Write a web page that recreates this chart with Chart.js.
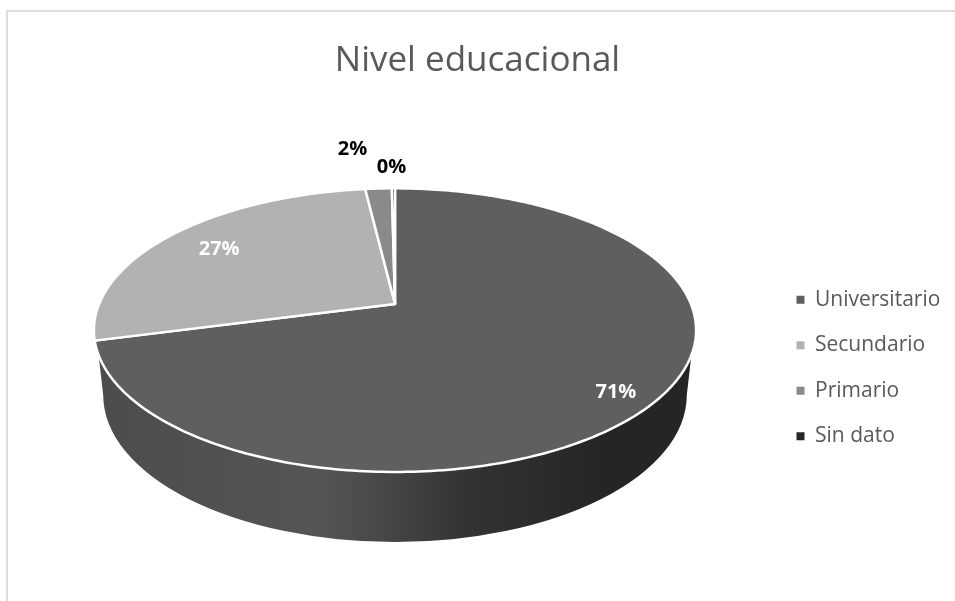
<!DOCTYPE html>
<html>
<head>
<meta charset="utf-8">
<title>Nivel educacional</title>
<script src="https://cdn.jsdelivr.net/npm/chart.js@4/dist/chart.umd.js"></script>
<style>
  html, body { margin: 0; padding: 0; background: #fff; }
  #frame { position: absolute; left: 6px; top: 10px; right: 0; bottom: 0;
           border-left: 2px solid #dcdcdc; border-top: 2px solid #dcdcdc; }
  canvas { position: absolute; left: 0; top: 0; display: block; }
</style>
</head>
<body>
<div id="frame"></div>
<canvas id="chart" width="955" height="601"></canvas>
<script>
const categories = ["Universitario", "Secundario", "Primario", "Sin dato"];
const shares = [70.9, 27.2, 1.7, 0.2];
const sliceColors = ["#5f5f5f", "#b2b2b2", "#8a8a8a", "#262626"];
const labelColors = ["#ffffff", "#ffffff", "#000000", "#000000"];

// how far out along the slice each label sits, then a hand nudge like in the original
const labelFractions = [0.88, 0.8, 1, 1];
const labelNudges = [[-8, 7], [5, 2], [-26, -39], [-2, -21]];

// tilted disc: perspective term and horizontal stretch
const tilt = -0.1844;
const stretch = 2.16;

const project = (arc, angle, fraction = 1) => {
  const r = arc.outerRadius * fraction;
  const w = 1 + tilt * fraction * Math.sin(angle);
  return {
    x: arc.x + (stretch * r * Math.cos(angle)) / w,
    y: arc.y + (r * Math.sin(angle)) / w,
  };
};

const drawWall = (ctx, arc) => {
  const k = arc.outerRadius;
  const cy = arc.y + 0.664 * k;
  const gradient = ctx.createLinearGradient(arc.x - 2.2 * k, 0, arc.x + 2.2 * k, 0);
  gradient.addColorStop(0, "#4c4c4c");
  gradient.addColorStop(0.38, "#555555");
  gradient.addColorStop(0.62, "#333333");
  gradient.addColorStop(0.85, "#252525");
  gradient.addColorStop(1, "#252525");
  ctx.fillStyle = gradient;
  ctx.beginPath();
  ctx.moveTo(arc.x - 2.165 * k, arc.y + 0.36 * k);
  ctx.lineTo(arc.x - 2.13 * k, cy);
  ctx.ellipse(arc.x, cy, 2.13 * k, 1.073 * k, 0, Math.PI, 0, true);
  ctx.lineTo(arc.x + 2.165 * k, arc.y + 0.36 * k);
  ctx.closePath();
  ctx.fill();
};

const drawSlice = (ctx, arc, color) => {
  const steps = Math.max(2, Math.ceil((arc.endAngle - arc.startAngle) * 60));
  ctx.beginPath();
  ctx.moveTo(arc.x, arc.y);
  for (let i = 0; i <= steps; i++) {
    const a = arc.startAngle + ((arc.endAngle - arc.startAngle) * i) / steps;
    const p = project(arc, a);
    ctx.lineTo(p.x, p.y);
  }
  ctx.closePath();
  ctx.fillStyle = color;
  ctx.fill();
  ctx.lineWidth = 2.5;
  ctx.lineJoin = "round";
  ctx.strokeStyle = "#ffffff";
  ctx.stroke();
};

const tiltedPie = {
  id: "tiltedPie",
  afterLayout(chart) {
    // legend sits lower and further left than the layout would put it
    chart.legend.left -= 18;
    chart.legend.top += 147.5;
    chart.legend.bottom += 147.5;
  },
  beforeDatasetDraw(chart, args) {
    const ctx = chart.ctx;
    const arcs = args.meta.data;
    ctx.save();
    drawWall(ctx, arcs[0]);
    arcs.forEach((arc, i) => drawSlice(ctx, arc, sliceColors[i]));
    ctx.restore();
    return false;
  },
  afterDatasetsDraw(chart) {
    const ctx = chart.ctx;
    const arcs = chart.getDatasetMeta(0).data;
    ctx.save();
    ctx.font = "bold 20px 'Open Sans'";
    ctx.textAlign = "center";
    ctx.textBaseline = "middle";
    arcs.forEach((arc, i) => {
      const mid = (arc.startAngle + arc.endAngle) / 2;
      const p = project(arc, mid, labelFractions[i]);
      ctx.fillStyle = labelColors[i];
      ctx.fillText(Math.round(shares[i]) + "%", p.x + labelNudges[i][0], p.y + labelNudges[i][1]);
    });
    ctx.restore();
  },
};

new Chart(document.getElementById("chart"), {
  type: "pie",
  data: {
    labels: categories,
    datasets: [{ data: shares, backgroundColor: sliceColors, borderWidth: 0 }],
  },
  options: {
    responsive: false,
    animation: false,
    layout: { padding: { top: 0, left: 0, right: 0, bottom: 160 } },
    plugins: {
      title: {
        display: true,
        text: "Nivel educacional",
        color: "#595959",
        font: { family: "'Open Sans'", size: 35, weight: "normal" },
        padding: { top: 40, bottom: 85 },
      },
      legend: {
        position: "right",
        maxWidth: 165,
        labels: {
          boxWidth: 8,
          boxHeight: 8,
          padding: 24.5,
          color: "#595959",
          font: { family: "'Open Sans'", size: 21 },
        },
      },
      tooltip: { enabled: false },
    },
  },
  plugins: [tiltedPie],
});
</script>
</body>
</html>
